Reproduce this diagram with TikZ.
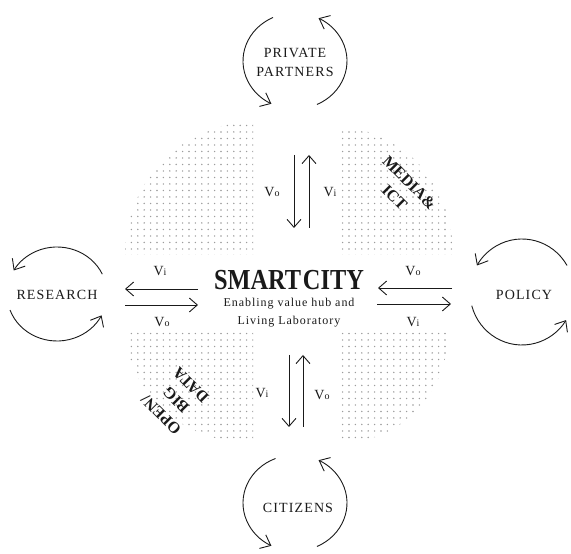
\documentclass[tikz,border=0pt]{standalone}
\usepackage{fontspec}
\setmainfont{Liberation Serif}
\newfontfamily\actorfont[LetterSpace=8]{Liberation Serif}
\newfontfamily\hubfont[FakeStretch=0.84]{Liberation Serif}
\usepackage{xcolor}
\definecolor{cInk}{HTML}{1A1A1A}
\definecolor{cDot}{HTML}{9C9C9C}
\usepackage{tikz}
\usetikzlibrary{positioning,arrows.meta}
\tikzset{
  node-actor/.style={align=center,font=\actorfont\fontsize{14}{19}\selectfont,text=cInk},
  node-hub/.style={font=\hubfont\bfseries\fontsize{29}{29}\selectfont,text=cInk,inner sep=0pt},
  node-sub/.style={align=center,font=\actorfont\fontsize{12}{18}\selectfont,text=cInk,inner sep=0pt},
  node-sector/.style={align=center,font=\bfseries\fontsize{16}{21}\selectfont,text=cInk,inner sep=0pt},
  node-v/.style={font=\fontsize{14}{14}\selectfont,text=cInk,inner sep=0pt},
  % V_o / V_i flows: open barbs, thin ink
  arrow-flow/.style={-{Straight Barb[length=8pt,width=14pt]},line width=0.9pt,draw=cInk},
  arrow-cycle/.style={-{Straight Barb[length=9pt,width=15pt]},line width=0.9pt,draw=cInk},
  grid-dot/.style={fill=cDot},
}
\newcommand{\vOut}{V{\fontsize{10}{10}\selectfont o}}
\newcommand{\vIn}{V{\fontsize{10}{10}\selectfont i}}

\begin{document}
\begin{tikzpicture}[x=1pt,y=1pt]
  \useasboundingbox (0,0) rectangle (571,554);

  % four dotted quarter fields around the hub
  \begin{scope}
    \clip (253,299) -- (125,299) arc[start angle=180,end angle=90,x radius=128,y radius=133] -- cycle
          (340,299) -- (453,299) arc[start angle=0,end angle=90,x radius=113,y radius=127] -- cycle
          (253,221) -- (127,221) arc[start angle=180,end angle=270,x radius=126,y radius=110] -- cycle
          (340,221) -- (448,221) arc[start angle=0,end angle=-90,x radius=108,y radius=110] -- cycle;
    \foreach \r in {0,...,52}
      \foreach \c in {0,...,53}
        \fill[grid-dot] ({125+\c*6.4},{110+\r*6.5}) circle (0.8);
  \end{scope}

  % actors
  \node[node-actor] (partners) at (295,492) {PRIVATE\\PARTNERS};
  \node[node-actor] (research) at (57,259) {RESEARCH};
  \node[node-actor] (policy) at (524,259) {POLICY};
  \node[node-actor] (citizens) at (298,46) {CITIZENS};

  \coordinate (partners-loop) at (295,493);
  \coordinate (research-loop) at (57,260);
  \coordinate (policy-loop) at (522,262);
  \coordinate (citizens-loop) at (295,51);

  \draw[arrow-cycle] ([shift={(115:52 and 48)}]partners-loop) arc[start angle=115,end angle=243,x radius=52,y radius=48];
  \draw[arrow-cycle] ([shift={(-65:52 and 48)}]partners-loop) arc[start angle=-65,end angle=63,x radius=52,y radius=48];
  \draw[arrow-cycle] ([shift={(25:50 and 47)}]research-loop) arc[start angle=25,end angle=150,x radius=50,y radius=47];
  \draw[arrow-cycle] ([shift={(200:50 and 47)}]research-loop) arc[start angle=200,end angle=333,x radius=50,y radius=47];
  \draw[arrow-cycle] ([shift={(30:52 and 53)}]policy-loop) arc[start angle=30,end angle=150,x radius=52,y radius=53];
  \draw[arrow-cycle] ([shift={(195:52 and 53)}]policy-loop) arc[start angle=195,end angle=328,x radius=52,y radius=53];
  \draw[arrow-cycle] ([shift={(112:52 and 48)}]citizens-loop) arc[start angle=112,end angle=243,x radius=52,y radius=48];
  \draw[arrow-cycle] ([shift={(-65:52 and 48)}]citizens-loop) arc[start angle=-65,end angle=63,x radius=52,y radius=48];

  % hub
  \node[node-hub] (hub) at (289,274) {{\spaceskip=0.06em SMART CITY}};
  \node[node-sub,below=8pt of hub] (hub-sub) {Enabling value hub and\\Living Laboratory};

  % value flows
  \coordinate (north-out-a) at (294,399); \coordinate (north-out-b) at (294,326);
  \coordinate (north-in-a) at (309,326);  \coordinate (north-in-b) at (309,399);
  \coordinate (west-in-a) at (198,265);   \coordinate (west-in-b) at (125,265);
  \coordinate (west-out-a) at (125,249);  \coordinate (west-out-b) at (198,249);
  \coordinate (east-out-a) at (452,266);  \coordinate (east-out-b) at (378,266);
  \coordinate (east-in-a) at (377,250);   \coordinate (east-in-b) at (451,250);
  \coordinate (south-in-a) at (289,199);  \coordinate (south-in-b) at (289,127);
  \coordinate (south-out-a) at (303,127); \coordinate (south-out-b) at (303,199);

  \draw[arrow-flow] (north-out-a) -- (north-out-b);
  \draw[arrow-flow] (north-in-a) -- (north-in-b);
  \draw[arrow-flow] (west-in-a) -- (west-in-b);
  \draw[arrow-flow] (west-out-a) -- (west-out-b);
  \draw[arrow-flow] (east-out-a) -- (east-out-b);
  \draw[arrow-flow] (east-in-a) -- (east-in-b);
  \draw[arrow-flow] (south-in-a) -- (south-in-b);
  \draw[arrow-flow] (south-out-a) -- (south-out-b);

  \node[node-v] (north-vo) at (272,362) {\vOut};
  \node[node-v] (north-vi) at (330,362) {\vIn};
  \node[node-v] (west-vi) at (160,283) {\vIn};
  \node[node-v] (west-vo) at (162,232) {\vOut};
  \node[node-v] (east-vo) at (413,283) {\vOut};
  \node[node-v] (east-vi) at (413,232) {\vIn};
  \node[node-v] (south-vi) at (262,161) {\vIn};
  \node[node-v] (south-vo) at (322,159) {\vOut};

  % sector captions
  \node[node-sector,rotate=-45] (media) at (402,364) {MEDIA\&\\ICT};
  \node[node-sector,rotate=135] (bigdata) at (176,154) {OPEN/\\BIG\\DATA};
\end{tikzpicture}
\end{document}
